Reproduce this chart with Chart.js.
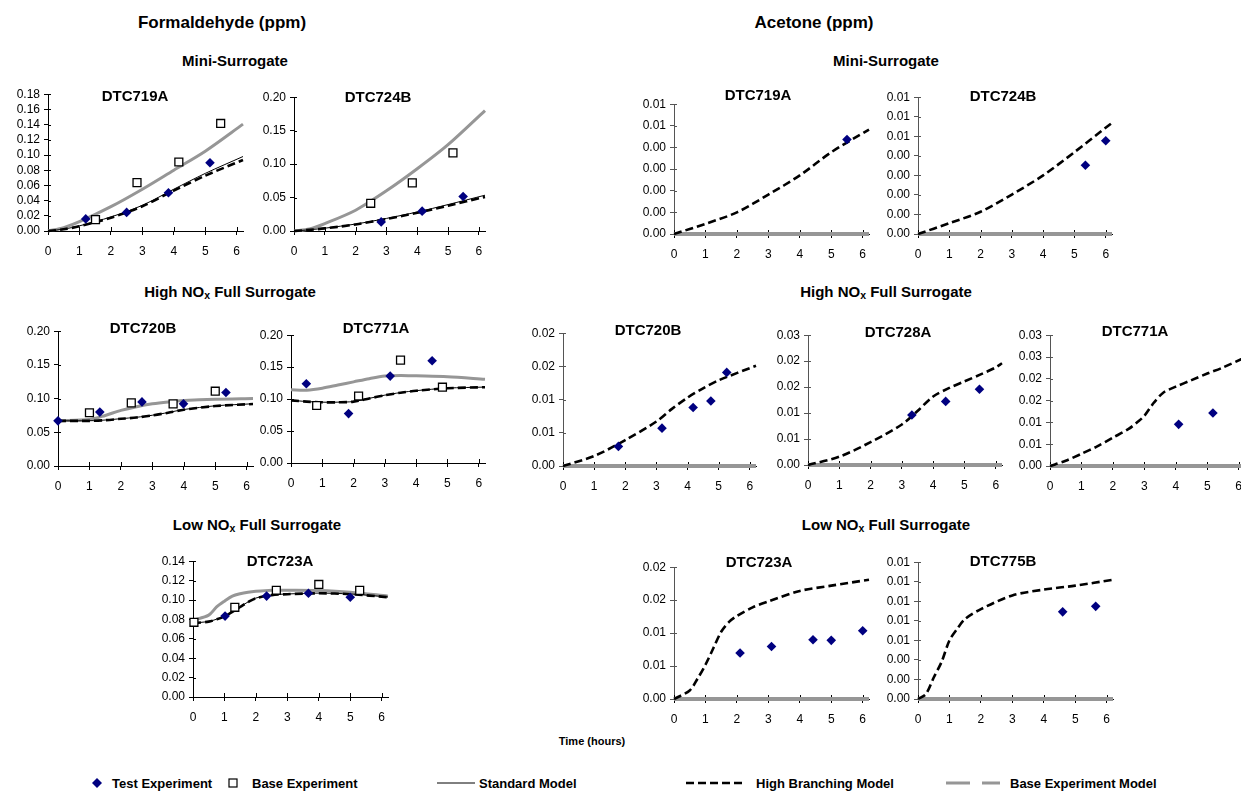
<!DOCTYPE html>
<html><head><meta charset="utf-8">
<script src="https://cdn.jsdelivr.net/npm/chart.js@4.4.0/dist/chart.umd.min.js"></script>
<style>
html,body{margin:0;padding:0;background:#fff;overflow:hidden;}
body{width:1241px;height:792px;position:relative;font-family:"Liberation Sans",Arial,sans-serif;color:#000;}
.t{position:absolute;transform:translate(-50%,-50%);white-space:nowrap;font-weight:bold;line-height:1;}
.l{position:absolute;transform:translateY(-50%);white-space:nowrap;font-weight:bold;font-size:13px;line-height:1;}
canvas{position:absolute;}
svg{position:absolute;overflow:visible;}
sub{font-size:70%;vertical-align:-0.25em;line-height:0;}
</style></head><body>
<div class="t" style="left:222px;top:22px;font-size:17px;">Formaldehyde (ppm)</div>
<div class="t" style="left:814px;top:22px;font-size:17px;">Acetone (ppm)</div>
<div class="t" style="left:235px;top:60px;font-size:15px;">Mini-Surrogate</div>
<div class="t" style="left:886px;top:60px;font-size:15px;">Mini-Surrogate</div>
<div class="t" style="left:230px;top:291px;font-size:15px;">High NO<sub>x</sub> Full Surrogate</div>
<div class="t" style="left:886px;top:291px;font-size:15px;">High NO<sub>x</sub> Full Surrogate</div>
<div class="t" style="left:257px;top:524px;font-size:15px;">Low NO<sub>x</sub> Full Surrogate</div>
<div class="t" style="left:886px;top:524px;font-size:15px;">Low NO<sub>x</sub> Full Surrogate</div>
<div class="t" style="left:592px;top:741px;font-size:11px;">Time (hours)</div>

<svg style="left:0;top:0" width="1241" height="792">
  <polygon points="97,778 102,783 97,788 92,783" fill="#000080"/>
  <rect x="229" y="779" width="8" height="8" fill="#fff" stroke="#000" stroke-width="1.2"/>
  <line x1="437" y1="783" x2="475" y2="783" stroke="#000" stroke-width="1"/>
  <line x1="686" y1="783" x2="745" y2="783" stroke="#000" stroke-width="2.5" stroke-dasharray="8,4"/>
  <line x1="946" y1="783" x2="1000" y2="783" stroke="#969696" stroke-width="3" stroke-dasharray="24,12"/>
</svg>
<div class="l" style="left:112px;top:783px;">Test Experiment</div>
<div class="l" style="left:252px;top:783px;">Base Experiment</div>
<div class="l" style="left:479px;top:783px;">Standard Model</div>
<div class="l" style="left:756px;top:783px;">High Branching Model</div>
<div class="l" style="left:1010px;top:783px;">Base Experiment Model</div>

<script>
// ---------- shared axis data ----------
const timeTicks = [0,1,2,3,4,5,6];
const timeTickLabels = ["0","1","2","3","4","5","6"];
const yTicks018 = [0,0.02,0.04,0.06,0.08,0.10,0.12,0.14,0.16,0.18];
const yLabels018 = ["0.00","0.02","0.04","0.06","0.08","0.10","0.12","0.14","0.16","0.18"];
const yTicks014 = [0,0.02,0.04,0.06,0.08,0.10,0.12,0.14];
const yLabels014 = ["0.00","0.02","0.04","0.06","0.08","0.10","0.12","0.14"];
const yTicks020 = [0,0.05,0.10,0.15,0.20];
const yLabels020 = ["0.00","0.05","0.10","0.15","0.20"];
const aTicks006 = [0,0.001,0.002,0.003,0.004,0.005,0.006];
const aLabels006 = ["0.00","0.00","0.00","0.00","0.00","0.01","0.01"];
const aTicks007 = [0,0.001,0.002,0.003,0.004,0.005,0.006,0.007];
const aLabels007 = ["0.00","0.00","0.00","0.00","0.00","0.01","0.01","0.01"];
const aTicks020 = [0,0.005,0.010,0.015,0.020];
const aLabels020 = ["0.00","0.01","0.01","0.02","0.02"];
const aTicks025 = [0,0.005,0.010,0.015,0.020,0.025];
const aLabels025 = ["0.00","0.01","0.01","0.02","0.02","0.03"];
const aTicks030 = [0,0.005,0.010,0.015,0.020,0.025,0.030];
const aLabels030 = ["0.00","0.01","0.01","0.02","0.02","0.03","0.03"];
const aTicks014 = [0,0.002,0.004,0.006,0.008,0.010,0.012,0.014];
const aLabels014 = ["0.00","0.00","0.00","0.01","0.01","0.01","0.01","0.01"];

// ---------- Formaldehyde DTC719A ----------
const f719aTestT = [1.2,2.5,3.83,5.15];
const f719aTestV = [0.0159,0.0245,0.0503,0.0899];
const f719aBaseT = [1.51,2.83,4.16,5.49];
const f719aBaseV = [0.015,0.0637,0.0908,0.1415];
const f719aModelT = [0,0.5,1,2,3,4,5,6.2];
const f719aStdV = [0,0.0025,0.0068,0.0185,0.0338,0.0550,0.0758,0.0980];
const f719aHbV  = [0,0.0023,0.0062,0.0175,0.0325,0.0532,0.0728,0.0935];
const f719aBemV = [0,0.0045,0.0122,0.032,0.055,0.080,0.105,0.1406];
// ---------- Formaldehyde DTC724B ----------
const f724bTestT = [2.83,4.16,5.49];
const f724bTestV = [0.0136,0.0297,0.0516];
const f724bBaseT = [2.49,3.84,5.16];
const f724bBaseV = [0.0414,0.072,0.1168];
const f724bModelT = [0,0.5,1,2,3,4,5,6.2];
const f724bStdV = [0,0.0018,0.0042,0.0104,0.0188,0.0284,0.0395,0.0535];
const f724bHbV  = [0,0.0017,0.0039,0.0098,0.018,0.0272,0.0378,0.051];
const f724bBemV = [0,0.003,0.011,0.031,0.060,0.093,0.129,0.180];
// ---------- Formaldehyde DTC720B ----------
const f720bTestT = [0,1.33,2.67,3.99,5.34];
const f720bTestV = [0.067,0.080,0.0951,0.0922,0.109];
const f720bBaseT = [1.0,2.33,3.66,5.0];
const f720bBaseV = [0.079,0.0937,0.0922,0.111];
const f720bModelT = [0,1,1.5,2,2.5,3,3.5,4,5,6.2];
const f720bStdV = [0.067,0.0672,0.0682,0.0702,0.0723,0.0753,0.0793,0.0838,0.0893,0.0923];
const f720bHbV  = [0.067,0.067,0.068,0.070,0.072,0.075,0.079,0.0835,0.089,0.092];
const f720bBemV = [0.067,0.069,0.075,0.0825,0.088,0.0922,0.095,0.097,0.099,0.100];
// ---------- Formaldehyde DTC771A ----------
const f771aTestT = [0.49,1.84,3.17,4.51];
const f771aTestV = [0.124,0.0773,0.136,0.160];
const f771aBaseT = [0.82,2.16,3.5,4.84];
const f771aBaseV = [0.090,0.1048,0.161,0.1186];
const f771aModelT = [0,0.5,1,1.5,2,2.5,3,3.5,4,5,6.2];
const f771aStdV = [0.0982,0.0962,0.0952,0.0952,0.0962,0.1012,0.1062,0.1102,0.1132,0.1172,0.1188];
const f771aHbV  = [0.098,0.096,0.095,0.095,0.096,0.101,0.106,0.110,0.113,0.117,0.1186];
const f771aBemV = [0.1145,0.114,0.117,0.122,0.127,0.132,0.136,0.137,0.1364,0.135,0.131];
// ---------- Formaldehyde DTC723A ----------
const f723aTestT = [1.02,2.34,3.67,5.0];
const f723aTestV = [0.0834,0.104,0.1069,0.1029];
const f723aBaseT = [0.03,1.33,2.65,4.0,5.3];
const f723aBaseV = [0.077,0.0925,0.110,0.116,0.1099];
const f723aModelT = [0,0.5,0.75,1,1.25,1.5,1.75,2,2.5,3,4,5,6.2];
const f723aStdV = [0.0762,0.0779,0.0802,0.0832,0.0880,0.0930,0.0980,0.1020,0.1052,0.1062,0.1071,0.1062,0.1031];
const f723aHbV  = [0.076,0.0777,0.080,0.083,0.0878,0.0928,0.0978,0.1018,0.105,0.106,0.1069,0.106,0.1029];
const f723aBemV = [0.079,0.0844,0.0928,0.0988,0.104,0.1065,0.108,0.1089,0.110,0.110,0.1097,0.108,0.104];

// ---------- Acetone DTC719A ----------
const a719aTestT = [5.5];
const a719aTestV = [0.00437];
const a719aModelT = [0,1,2,3,4,5,6.2];
const a719aHbV = [0,0.00047,0.0010,0.00182,0.00271,0.00378,0.00483];
// ---------- Acetone DTC724B ----------
const a724bTestT = [5.35,6.0];
const a724bTestV = [0.00352,0.00477];
const a724bModelT = [0,1,2,3,4,5,6.2];
const a724bHbV = [0,0.00055,0.00114,0.00202,0.0030,0.00419,0.00569];
// ---------- Acetone DTC720B ----------
const a720bTestT = [1.78,3.18,4.18,4.75,5.26];
const a720bTestV = [0.00295,0.0057,0.0088,0.0098,0.0141];
const a720bModelT = [0,1,2,3,3.5,4,4.5,5,6.2];
const a720bHbV = [0,0.0015,0.0039,0.0067,0.0086,0.0103,0.0117,0.0129,0.0151];
// ---------- Acetone DTC728A ----------
const a728aTestT = [3.32,4.4,5.48];
const a728aTestV = [0.00963,0.01225,0.0146];
const a728aModelT = [0,1,2,3,3.5,4,4.5,5,5.5,6,6.2];
const a728aHbV = [0,0.0016,0.0044,0.0078,0.0104,0.0132,0.0148,0.0161,0.0174,0.0188,0.0196];
// ---------- Acetone DTC771A ----------
const a771aTestT = [4.09,5.18];
const a771aTestV = [0.00955,0.01216];
const a771aModelT = [0,0.5,1,1.5,2,2.5,2.8,3,3.3,3.6,4,4.5,5,5.5,6.2];
const a771aHbV = [0,0.0012,0.0028,0.0045,0.0065,0.0085,0.0102,0.0115,0.0145,0.0168,0.0182,0.0197,0.0212,0.0226,0.0249];
// ---------- Acetone DTC723A ----------
const a723aTestT = [2.1,3.1,4.42,5.0,6.0];
const a723aTestV = [0.00698,0.00797,0.0090,0.0089,0.01035];
const a723aModelT = [0,0.5,0.75,1,1.25,1.5,1.75,2,2.5,3,4,5,6.2];
const a723aHbV = [0,0.0013,0.0031,0.0052,0.0077,0.0102,0.0117,0.0126,0.0139,0.0148,0.0164,0.0172,0.0181];
// ---------- Acetone DTC775B ----------
const a775bTestT = [4.6,5.65];
const a775bTestV = [0.00892,0.00948];
const a775bModelT = [0,0.25,0.5,0.75,1,1.25,1.5,2,3,4,5,6.2];
const a775bHbV = [0,0.0005,0.0022,0.0038,0.0060,0.0072,0.0082,0.0092,0.0106,0.0112,0.0116,0.0122];
// acetone base experiment model (zero)
const aBemT = [0,6.2];
const aBemV = [0,0];

// ---------- helpers ----------
const pts = (t,v) => t.map((x,i)=>({x:x,y:v[i]}));
Chart.defaults.font.family = '"Liberation Sans", Arial, sans-serif';
Chart.defaults.color = '#000';

const crossTicks = {
  id:'crossTicks',
  beforeDatasetsDraw(chart){
    const ctx=chart.ctx, xs=chart.scales.x, ys=chart.scales.y;
    ctx.save(); ctx.lineWidth=1;
    ctx.strokeStyle='#000';
    ctx.beginPath();
    xs.ticks.forEach(t=>{const px=Math.round(xs.getPixelForValue(t.value))+0.5; ctx.moveTo(px,ys.bottom-4); ctx.lineTo(px,ys.bottom);});
    ctx.stroke();
    ctx.strokeStyle=chart.options.scales.y.border.color;
    ctx.beginPath();
    ys.ticks.forEach(t=>{const py=Math.round(ys.getPixelForValue(t.value))+0.5; ctx.moveTo(xs.left,py); ctx.lineTo(xs.left+3,py);});
    ctx.stroke();
    ctx.restore();
  }
};

function panel(o){
  const L=46, B=30, T=8, R=8;
  const W=Math.round(o.unit*6.2), H=o.h;
  const cv=document.createElement('canvas');
  cv.width=L+W+R; cv.height=T+H+B;
  cv.style.left=(o.x0-L)+'px'; cv.style.top=(o.top-T)+'px';
  document.body.appendChild(cv);
  const ds=[];
  ds.push({label:'Test Experiment',data:pts(o.testT,o.testV),showLine:false,pointStyle:'rectRot',pointRadius:4.8,pointHoverRadius:4.8,backgroundColor:'#000080',borderColor:'#000080',borderWidth:0,clip:false});
  if(o.baseT) ds.push({label:'Base Experiment',data:pts(o.baseT,o.baseV),showLine:false,pointStyle:'rect',pointRadius:5.6,pointHoverRadius:5.6,backgroundColor:'#fff',borderColor:'#000',borderWidth:1.3,clip:false});
  if(o.stdV) ds.push({label:'Standard Model',data:pts(o.modelT,o.stdV),showLine:true,pointRadius:0,borderColor:'#000',borderWidth:1,tension:0.3,clip:false});
  ds.push({label:'High Branching Model',data:pts(o.modelT,o.hbV),showLine:true,pointRadius:0,borderColor:'#000',borderWidth:2.6,borderDash:[8,4],tension:0.3,clip:false});
  ds.push({label:'Base Experiment Model',data:pts(o.bemT||o.modelT,o.bemV),showLine:true,pointRadius:0,borderColor:'#969696',borderWidth:o.acetone?4:3,tension:0.3,clip:false});
  new Chart(cv,{
    type:'scatter',
    data:{datasets:ds},
    plugins:[crossTicks],
    options:{
      responsive:false, animation:false, devicePixelRatio:1,
      layout:{padding:{top:T,right:R,left:0,bottom:0}},
      plugins:{legend:{display:false},tooltip:{enabled:false},title:{display:false}},
      scales:{
        x:{type:'linear',min:0,max:6.2,
          afterBuildTicks:s=>{s.ticks=timeTicks.map(v=>({value:v}));},
          afterFit:s=>{s.height=B;},
          ticks:{callback:(v,i)=>timeTickLabels[i],font:{size:12},color:'#000',padding:9,maxRotation:0,autoSkip:false},
          grid:{drawOnChartArea:false,color:'#000',tickLength:4},
          border:{color:'#000',width:1}},
        y:{type:'linear',min:0,max:o.yTicks[o.yTicks.length-1],
          afterBuildTicks:s=>{s.ticks=o.yTicks.map(v=>({value:v}));},
          afterFit:s=>{s.width=L;},
          ticks:{callback:(v,i)=>o.yLabels[i],font:{size:12},color:'#000',padding:4,autoSkip:false},
          grid:{drawOnChartArea:false,color:o.acetone?'#555':'#000',tickLength:4},
          border:{color:o.acetone?'#555':'#000',width:1}}
      }
    }
  });
  const d=document.createElement('div');
  d.className='t'; d.style.fontSize='15px';
  d.style.left=o.tx+'px'; d.style.top=o.ty+'px';
  d.textContent=o.title;
  document.body.appendChild(d);
}

panel({title:'DTC719A',tx:135,ty:95,x0:48,top:91,h:140,unit:31.5,yTicks:yTicks018,yLabels:yLabels018,
  testT:f719aTestT,testV:f719aTestV,baseT:f719aBaseT,baseV:f719aBaseV,modelT:f719aModelT,stdV:f719aStdV,hbV:f719aHbV,bemV:f719aBemV});
panel({title:'DTC724B',tx:378,ty:96,x0:294,top:94,h:137,unit:30.8,yTicks:yTicks020,yLabels:yLabels020,
  testT:f724bTestT,testV:f724bTestV,baseT:f724bBaseT,baseV:f724bBaseV,modelT:f724bModelT,stdV:f724bStdV,hbV:f724bHbV,bemV:f724bBemV});
panel({title:'DTC719A',tx:758,ty:94,x0:674,top:101,h:133,unit:31.5,yTicks:aTicks006,yLabels:aLabels006,acetone:true,
  testT:a719aTestT,testV:a719aTestV,modelT:a719aModelT,hbV:a719aHbV,bemT:aBemT,bemV:aBemV});
panel({title:'DTC724B',tx:1003,ty:95,x0:918,top:94,h:140,unit:31.3,yTicks:aTicks007,yLabels:aLabels007,acetone:true,
  testT:a724bTestT,testV:a724bTestV,modelT:a724bModelT,hbV:a724bHbV,bemT:aBemT,bemV:aBemV});

panel({title:'DTC720B',tx:143,ty:327,x0:58,top:328,h:138,unit:31.4,yTicks:yTicks020,yLabels:yLabels020,
  testT:f720bTestT,testV:f720bTestV,baseT:f720bBaseT,baseV:f720bBaseV,modelT:f720bModelT,stdV:f720bStdV,hbV:f720bHbV,bemV:f720bBemV});
panel({title:'DTC771A',tx:376,ty:327,x0:291,top:332,h:131,unit:31.3,yTicks:yTicks020,yLabels:yLabels020,
  testT:f771aTestT,testV:f771aTestV,baseT:f771aBaseT,baseV:f771aBaseV,modelT:f771aModelT,stdV:f771aStdV,hbV:f771aHbV,bemV:f771aBemV});
panel({title:'DTC720B',tx:648,ty:329,x0:563,top:330,h:136,unit:31.2,yTicks:aTicks020,yLabels:aLabels020,acetone:true,
  testT:a720bTestT,testV:a720bTestV,modelT:a720bModelT,hbV:a720bHbV,bemT:aBemT,bemV:aBemV});
panel({title:'DTC728A',tx:898,ty:331,x0:808,top:332,h:133,unit:31.3,yTicks:aTicks025,yLabels:aLabels025,acetone:true,
  testT:a728aTestT,testV:a728aTestV,modelT:a728aModelT,hbV:a728aHbV,bemT:aBemT,bemV:aBemV});
panel({title:'DTC771A',tx:1135,ty:330,x0:1050,top:332,h:134,unit:31.4,yTicks:aTicks030,yLabels:aLabels030,acetone:true,
  testT:a771aTestT,testV:a771aTestV,modelT:a771aModelT,hbV:a771aHbV,bemT:aBemT,bemV:aBemV});

panel({title:'DTC723A',tx:280,ty:560,x0:193,top:558,h:139,unit:31.5,yTicks:yTicks014,yLabels:yLabels014,
  testT:f723aTestT,testV:f723aTestV,baseT:f723aBaseT,baseV:f723aBaseV,modelT:f723aModelT,stdV:f723aStdV,hbV:f723aHbV,bemV:f723aBemV});
panel({title:'DTC723A',tx:759,ty:561,x0:674,top:564,h:135,unit:31.4,yTicks:aTicks020,yLabels:aLabels020,acetone:true,
  testT:a723aTestT,testV:a723aTestV,modelT:a723aModelT,hbV:a723aHbV,bemT:aBemT,bemV:aBemV});
panel({title:'DTC775B',tx:1003,ty:560,x0:918,top:559,h:140,unit:31.5,yTicks:aTicks014,yLabels:aLabels014,acetone:true,
  testT:a775bTestT,testV:a775bTestV,modelT:a775bModelT,hbV:a775bHbV,bemT:aBemT,bemV:aBemV});
</script>
</body></html>
